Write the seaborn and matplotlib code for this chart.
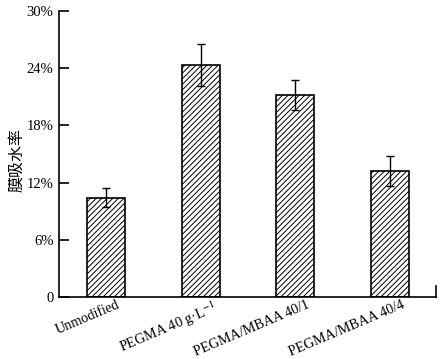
import matplotlib
matplotlib.use("Agg")
import matplotlib.pyplot as plt
import matplotlib.transforms as mtransforms
import seaborn as sns
import pandas as pd
import numpy as np

categories = ["Unmodified", "PEGMA 40 g·L$^{-1}$", "PEGMA/MBAA 40/1", "PEGMA/MBAA 40/4"]
values = [10.4, 24.3, 21.2, 13.2]
errors = [1.0, 2.2, 1.6, 1.6]
yticks = [0, 6, 12, 18, 24, 30]
ytick_labels = ["0", "6%", "12%", "18%", "24%", "30%"]

sns.set_theme(style="white")
plt.rcParams['font.family'] = ['Liberation Serif', 'Noto Sans CJK SC']
plt.rcParams['mathtext.fontset'] = 'stix'
plt.rcParams['hatch.linewidth'] = 0.7

df = pd.DataFrame({"cat": categories, "val": values, "err": errors})

fig = plt.figure(figsize=(4.44, 3.59), dpi=100)
ax = fig.add_axes([59/444, 62/359, 377/444, 286/359])

sns.barplot(data=df, x="cat", y="val", ax=ax, color="white", edgecolor="black",
            linewidth=1.2, width=0.4, errorbar=None, hatch="//////")
for p in ax.patches:
    p.set_hatch("//////")
    p.set_facecolor("white")
    p.set_edgecolor("black")

ax.errorbar(np.arange(len(categories)), df["val"], yerr=df["err"], fmt="none",
            ecolor="black", elinewidth=1.0, capsize=3, capthick=1.0)

ax.set_xlim(-0.495, 3.485)
ax.set_ylim(0, 30)
ax.set_yticks(yticks)
ax.set_yticklabels(ytick_labels, fontsize=10.5)
ax.tick_params(axis="y", direction="in", length=7, width=1.2, left=True, pad=4, colors="black")
ax.tick_params(axis="x", length=0, pad=1)
offset = mtransforms.ScaledTranslation(0.11, 0.0, fig.dpi_scale_trans)
for lab in ax.get_xticklabels():
    lab.set_rotation(23)
    lab.set_ha("right")
    lab.set_va("top")
    lab.set_rotation_mode("anchor")
    lab.set_fontsize(10.2)
    lab.set_color("black")
    lab.set_transform(lab.get_transform() + offset)

ax.set_xlabel("")
ax.set_ylabel("膜吸水率", family=['Noto Sans CJK SC'], fontsize=11.5, color="black")
ax.yaxis.set_label_coords(-0.09, 0.479)

for s in ["left", "bottom"]:
    ax.spines[s].set_linewidth(1.2)
    ax.spines[s].set_color("black")
ax.spines["top"].set_visible(False)
ax.spines["right"].set_visible(True)
ax.spines["right"].set_linewidth(1.2)
ax.spines["right"].set_color("black")
ax.spines["right"].set_bounds(0, 1.2)

fig.savefig("out.png", dpi=100)
